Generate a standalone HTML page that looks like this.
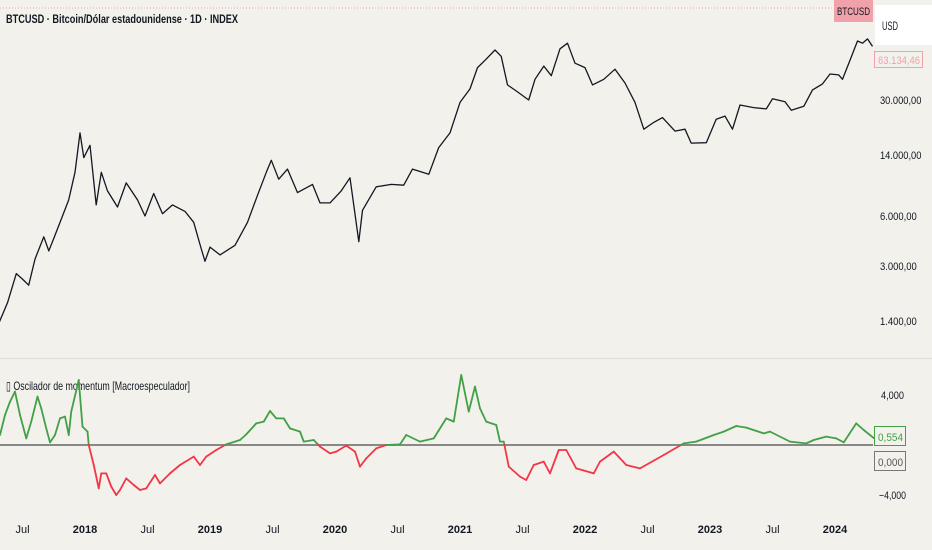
<!DOCTYPE html>
<html><head><meta charset="utf-8">
<style>
html,body{margin:0;padding:0;background:#f2f1ec;}
body{width:932px;height:550px;overflow:hidden;position:relative;font-family:"Liberation Sans",sans-serif;}
svg{position:absolute;left:0;top:0;}
</style></head>
<body>
<svg id="chart" width="932" height="550" viewBox="0 0 932 550">
  <rect x="0" y="0" width="932" height="550" fill="#f2f1ec"/>
  <line x1="0" y1="8" x2="873" y2="8" stroke="#f2a3ab" stroke-dasharray="1,2" stroke-width="1"/>
  <line x1="0" y1="358.5" x2="932" y2="358.5" stroke="#dcdcd8" stroke-width="1"/>
  <text x="6" y="23" font-size="12" font-weight="bold" fill="#131722" textLength="232" lengthAdjust="spacingAndGlyphs">BTCUSD · Bitcoin/Dólar estadounidense · 1D · INDEX</text>
  <text x="6" y="390" font-size="12" fill="#131722" textLength="184" lengthAdjust="spacingAndGlyphs">▯ Oscilador de momentum [Macroespeculador]</text>
  <g id="priceG"></g>
  <g id="yTicks"></g>
  <line x1="0" y1="445" x2="873" y2="445" stroke="#888" stroke-width="2"/>
  <g id="oscG"></g>
  <g id="oTicks"></g>
  <g id="xTicks"></g>
  <rect x="834" y="0" width="39" height="22" fill="#f0a1a9"/>
  <text x="853.5" y="15" font-size="11" fill="#131722" text-anchor="middle" textLength="33" lengthAdjust="spacingAndGlyphs">BTCUSD</text>
  <rect x="875" y="5" width="57" height="40" fill="#ffffff"/>
  <text x="882" y="30" font-size="12" fill="#131722" textLength="16" lengthAdjust="spacingAndGlyphs">USD</text>
  <rect x="874.5" y="51.5" width="48" height="16" fill="#f2f1ec" stroke="#f0a1a9"/>
  <text x="878" y="64" font-size="11" fill="#f0a1a9" textLength="42" lengthAdjust="spacingAndGlyphs">63.134,46</text>
  <rect x="874.5" y="426.5" width="31" height="19" fill="#f2f1ec" stroke="#43a047"/>
  <text x="878" y="441" font-size="11" fill="#43a047" textLength="25" lengthAdjust="spacingAndGlyphs">0,554</text>
  <rect x="874.5" y="451.5" width="31" height="19" fill="#f2f1ec" stroke="#777"/>
  <text x="878" y="466" font-size="11" fill="#555" textLength="25" lengthAdjust="spacingAndGlyphs">0,000</text>
</svg>
<script>
const priceTimes=[2017.30,2017.38,2017.45,2017.50,2017.55,2017.60,2017.67,2017.71,2017.75,2017.82,2017.87,2017.92,2017.96,2017.99,2018.04,2018.09,2018.13,2018.18,2018.26,2018.33,2018.42,2018.48,2018.55,2018.62,2018.70,2018.80,2018.87,2018.93,2018.96,2019.00,2019.08,2019.20,2019.30,2019.38,2019.45,2019.49,2019.55,2019.62,2019.70,2019.82,2019.88,2019.96,2020.05,2020.12,2020.19,2020.22,2020.33,2020.45,2020.55,2020.62,2020.75,2020.83,2020.92,2021.00,2021.08,2021.14,2021.20,2021.28,2021.33,2021.38,2021.45,2021.55,2021.60,2021.67,2021.73,2021.80,2021.86,2021.92,2022.00,2022.06,2022.15,2022.24,2022.32,2022.40,2022.47,2022.55,2022.62,2022.72,2022.80,2022.85,2022.97,2023.05,2023.12,2023.18,2023.24,2023.35,2023.45,2023.50,2023.60,2023.65,2023.75,2023.82,2023.90,2023.96,2024.03,2024.06,2024.12,2024.18,2024.22,2024.26,2024.30];
const priceValues=[1300,1800,2700,2500,2300,3300,4500,3700,4400,6000,7500,11000,19000,13500,16000,7000,11000,8500,6800,9500,7500,6000,8200,6200,7000,6400,5500,3800,3200,3900,3500,4000,5500,8000,11000,13000,10000,11500,8300,9300,7200,7200,8500,10200,4200,6500,9000,9300,9200,11500,10700,15500,19000,29000,35000,47000,52000,60000,55000,37000,34000,30000,40000,48000,42000,61000,66000,50000,47000,37000,40000,46000,38000,29000,20000,22000,23500,19500,20000,16500,16600,23000,24000,20000,28000,27000,26500,30500,29300,26000,27500,34500,37500,43000,42500,40000,52000,68000,66000,70000,63134];
const priceTicks=[30000,14000,6000,3000,1400];
const priceTickLabels=["30.000,00","14.000,00","6.000,00","3.000,00","1.400,00"];
const oscTimes=[2017.32,2017.36,2017.40,2017.44,2017.48,2017.53,2017.57,2017.62,2017.65,2017.69,2017.72,2017.76,2017.80,2017.84,2017.87,2017.89,2017.95,2017.98,2018.02,2018.03,2018.07,2018.11,2018.13,2018.17,2018.21,2018.25,2018.28,2018.33,2018.39,2018.44,2018.49,2018.56,2018.60,2018.68,2018.76,2018.87,2018.92,2018.97,2019.05,2019.13,2019.24,2019.29,2019.37,2019.43,2019.48,2019.53,2019.59,2019.64,2019.72,2019.75,2019.83,2019.88,2019.96,2020.01,2020.09,2020.16,2020.20,2020.25,2020.33,2020.41,2020.52,2020.57,2020.68,2020.79,2020.89,2020.95,2021.01,2021.07,2021.12,2021.16,2021.21,2021.29,2021.32,2021.35,2021.39,2021.48,2021.53,2021.59,2021.67,2021.72,2021.79,2021.85,2021.93,2022.07,2022.12,2022.23,2022.33,2022.44,2022.63,2022.79,2022.89,2023.03,2023.11,2023.21,2023.29,2023.43,2023.48,2023.64,2023.77,2023.83,2023.93,2024.01,2024.07,2024.17,2024.23,2024.31];
const oscValues=[0.8,2.4,3.46,4.27,2.4,0.53,1.87,3.87,2.93,1.33,0.21,0.8,2.13,2.27,0.8,2.67,5.2,1.47,1.07,0,-1.6,-3.47,-2.27,-2.27,-3.33,-4.0,-3.6,-2.67,-3.2,-3.6,-3.47,-2.4,-3.07,-2.27,-1.6,-0.93,-1.6,-0.93,-0.4,0.05,0.4,0.85,1.73,1.87,2.72,2.13,2.13,1.33,1.07,0.27,0.4,-0.13,-0.67,-0.53,-0.05,-0.53,-1.73,-1.07,-0.27,0,0.05,0.8,0.27,0.53,2.13,1.87,5.6,2.67,4.67,2.93,1.87,1.6,0.27,0.27,-1.73,-2.53,-2.8,-1.6,-1.33,-2.27,-0.4,-0.4,-1.87,-2.27,-1.33,-0.53,-1.6,-1.87,-0.8,0.13,0.27,0.8,1.07,1.52,1.39,0.93,1.07,0.27,0.13,0.4,0.67,0.53,0.21,1.73,1.2,0.554];
const oscTicks=[4,-4];
const oscTickLabels=["4,000","−4,000"];
const xTickTimes=[2017.5,2018,2018.5,2019,2019.5,2020,2020.5,2021,2021.5,2022,2022.5,2023,2023.5,2024];
const xTickLabels=["Jul","2018","Jul","2019","Jul","2020","Jul","2021","Jul","2022","Jul","2023","Jul","2024"];

const NS="http://www.w3.org/2000/svg";
function xS(t){return 85+125*(t-2018);}
function yP(p){return 100-(Math.log10(p)-Math.log10(30000))*166;}
function yO(v){return 445-v*12.5;}
function mk(tag,attrs,parent){const e=document.createElementNS(NS,tag);for(const k in attrs)e.setAttribute(k,attrs[k]);parent.appendChild(e);return e;}

const pg=document.getElementById('priceG');
const pl=mk('polyline',{points:priceTimes.map((t,i)=>xS(t).toFixed(1)+','+yP(priceValues[i]).toFixed(1)).join(' '),fill:'none',stroke:'#131722','stroke-width':'1.3','stroke-linejoin':'round'},pg);



const yt=document.getElementById('yTicks');
priceTicks.forEach((p,i)=>{
  const t=mk('text',{x:880,y:yP(p)+4,'font-size':11,fill:'#131722',textLength:priceTickLabels[i].length*4.6,lengthAdjust:'spacingAndGlyphs'},yt);
  t.textContent=priceTickLabels[i];
  
  
});

const og=document.getElementById('oscG');
for(let i=0;i<oscTimes.length-1;i++){
  let x1=xS(oscTimes[i]),y1=yO(oscValues[i]),x2=xS(oscTimes[i+1]),y2=yO(oscValues[i+1]);
  const v1=oscValues[i],v2=oscValues[i+1];
  const segs=[];
  if((v1>0&&v2<0)||(v1<0&&v2>0)){
    const f=v1/(v1-v2);const xm=x1+(x2-x1)*f;
    segs.push([x1,y1,xm,445,v1>0]);segs.push([xm,445,x2,y2,v2>0]);
  } else segs.push([x1,y1,x2,y2,(v1+v2)>=0]);
  segs.forEach(s=>{
    const l=mk('line',{x1:s[0],y1:s[1],x2:s[2],y2:s[3],stroke:s[4]?'#43a047':'#f23645','stroke-width':1.8,'stroke-linecap':'round'},og);
    
    
  });
}

const ot=document.getElementById('oTicks');
oscTicks.forEach((v,i)=>{
  const t=mk('text',{x:v<0?879:881,y:yO(v)+4,'font-size':11,fill:'#131722',textLength:v<0?27:23,lengthAdjust:'spacingAndGlyphs'},ot);
  t.textContent=oscTickLabels[i];
  
  
});

const xt=document.getElementById('xTicks');
xTickTimes.forEach((tm,i)=>{
  const bold=xTickLabels[i]!=='Jul';
  const t=mk('text',{x:xS(tm),y:533,'font-size':11,fill:'#131722','text-anchor':'middle','font-weight':bold?'bold':'normal'},xt);
  t.textContent=xTickLabels[i];
  
  
});
</script>
</body></html>
